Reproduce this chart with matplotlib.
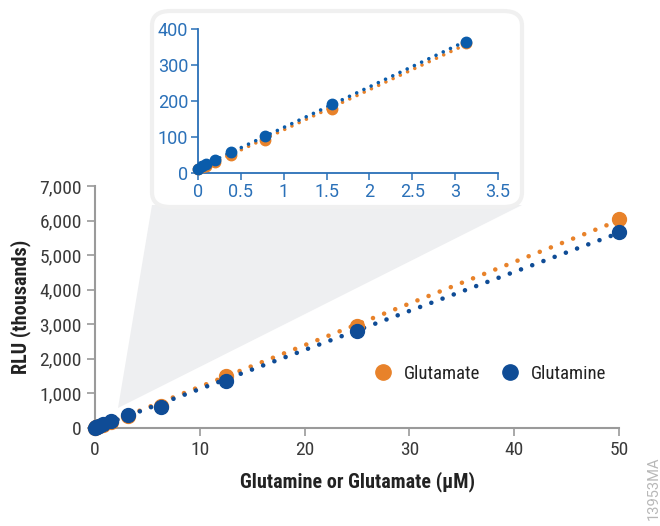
import numpy as np
import matplotlib
matplotlib.use('Agg')
import matplotlib.pyplot as plt
from matplotlib.patches import Polygon, FancyBboxPatch
from matplotlib.lines import Line2D

plt.rcParams['font.family'] = ['Roboto Condensed', 'DejaVu Sans']

# Concentrations (uM) and RLU (thousands)
conc = [0, 0.049, 0.098, 0.195, 0.39, 0.78, 1.56, 3.125, 6.25, 12.5, 25, 50]
glutamate = [10, 17, 20, 30, 50, 93, 178, 360, 640, 1500, 2950, 6040]
glutamine = [12, 20, 25, 35, 58, 102, 192, 365, 620, 1360, 2810, 5670]

# Inset (low range) shows first 8 points
n_inset = 8

orange = '#E8822A'
blue_main = '#0F4C96'
blue_inset = '#0A5CAB'
axis_blue = '#2A70B8'
grey = '#9A9A9A'

W, H = 660, 526
fig = plt.figure(figsize=(6.6, 5.26), dpi=100)

def px(x, y):
    return (x / W, 1 - y / H)

# Main chart
ax = fig.add_axes([95 / W, 1 - 428 / H, (619 - 95) / W, (428 - 186) / H])
ax.patch.set_visible(False)
dots = dict(linestyle=(0, (0.01, 2.6)), dash_capstyle='round', linewidth=3.3)
for ys, c in [(glutamate, orange), (glutamine, blue_main)]:
    k, b = np.polyfit(conc, ys, 1)
    xs = np.array([0, conc[-1]])
    ax.plot(xs, k * xs + b, color=c, clip_on=False, **dots)
    ax.plot(conc, ys, 'o', color=c, markersize=10, clip_on=False, zorder=3)

ax.set_xlim(0, 50)
ax.set_ylim(0, 7000)
ax.set_xticks([0, 10, 20, 30, 40, 50])
ax.set_yticks(range(0, 7001, 1000))
ax.set_yticklabels([f'{v:,}' for v in range(0, 7001, 1000)])
for s in ['top', 'right']:
    ax.spines[s].set_visible(False)
for s in ['left', 'bottom']:
    ax.spines[s].set_color(grey)
    ax.spines[s].set_linewidth(1.5)
ax.tick_params(colors=grey, labelcolor='#3A3A3A', labelsize=14, length=6, width=1.2)
ax.set_xlabel('Glutamine or Glutamate (µM)', fontsize=14.5, fontweight='bold', color='#222222', labelpad=9)
ax.set_ylabel('RLU (thousands)', fontsize=14.5, fontweight='bold', color='#222222', labelpad=6)

legend_handles = [
    Line2D([], [], marker='o', linestyle='none', color=orange, markersize=11, label='Glutamate'),
    Line2D([], [], marker='o', linestyle='none', color=blue_main, markersize=11, label='Glutamine'),
]
ax.legend(handles=legend_handles, ncol=2, frameon=False, fontsize=13.5, loc='center',
          bbox_to_anchor=(0.745, 0.223), handletextpad=0.1, columnspacing=0.6, labelcolor='#222222')

# Grey wedge connecting the zoom region to the inset
wedge = Polygon([px(118, 408), px(152, 205), px(522, 205)], closed=True,
                transform=fig.transFigure, facecolor='#EEEFF1', edgecolor='none', zorder=1)
fig.patches.append(wedge)

# Inset box
x0, y0 = px(152, 207)
x1, y1 = px(522, 11)
box = FancyBboxPatch((x0, y0), x1 - x0, y1 - y0, boxstyle='round,pad=0,rounding_size=0.028',
                     transform=fig.transFigure, facecolor='white', edgecolor='#F0F0F0',
                     linewidth=3, zorder=1.5)
fig.patches.append(box)

# Inset chart
ins = fig.add_axes([198 / W, 1 - 173 / H, (498 - 198) / W, (173 - 29) / H], zorder=2)
ins.patch.set_visible(False)
xi = conc[:n_inset]
for ys, c in [(glutamate, orange), (glutamine, blue_inset)]:
    yi = ys[:n_inset]
    k, b = np.polyfit(xi, yi, 1)
    xs = np.array([0, xi[-1]])
    ins.plot(xs, k * xs + b, color=c, linestyle=(0, (0.01, 2.2)), dash_capstyle='round',
             linewidth=2.6, clip_on=False)
    ins.plot(xi, yi, 'o', color=c, markersize=7.5, clip_on=False, zorder=3)

ins.set_xlim(0, 3.5)
ins.set_ylim(0, 400)
ins.set_xticks([0, 0.5, 1, 1.5, 2, 2.5, 3, 3.5])
ins.set_xticklabels(['0', '0.5', '1', '1.5', '2', '2.5', '3', '3.5'])
ins.set_yticks([0, 100, 200, 300, 400])
for s in ['top', 'right']:
    ins.spines[s].set_visible(False)
for s in ['left', 'bottom']:
    ins.spines[s].set_color(axis_blue)
    ins.spines[s].set_linewidth(1.3)
ins.tick_params(colors=axis_blue, labelcolor=axis_blue, labelsize=13, length=5, width=1.1, pad=2)
for lab in ins.get_xticklabels() + ins.get_yticklabels():
    lab.set_family(['Roboto', 'DejaVu Sans'])

fig.text(654 / W, 1 - 488 / H, '13953MA', rotation=90, ha='center', va='center',
         fontsize=10.5, color='#B8B8B8', family=['Roboto', 'DejaVu Sans'])

fig.savefig('out.png', dpi=100)
